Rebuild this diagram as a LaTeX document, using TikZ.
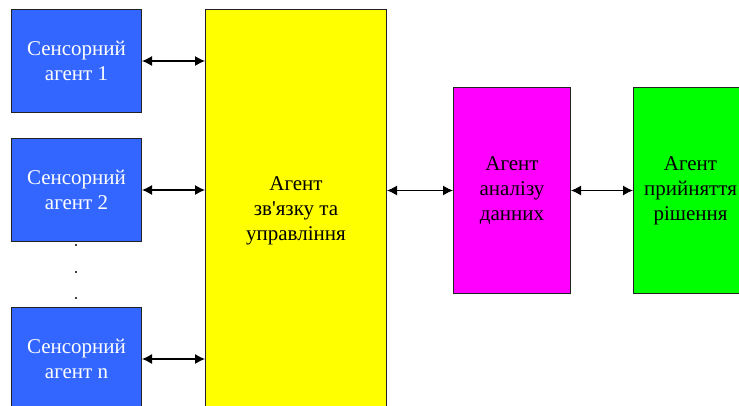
\documentclass[tikz,border=0pt]{standalone}
\usepackage{fontspec}
\setmainfont{Liberation Serif}
\usetikzlibrary{arrows.meta}
\definecolor{sblue}{HTML}{3366FF}
\definecolor{syellow}{HTML}{FFFF00}
\definecolor{smag}{HTML}{FF00FF}
\definecolor{sgreen}{HTML}{00FF00}
\definecolor{sedge}{HTML}{222222}
\begin{document}
\begin{tikzpicture}[x=1pt,y=-1pt,
  box/.style={draw=sedge,line width=1pt,anchor=north west,align=center,inner sep=0pt,
    font=\fontsize{21}{25}\selectfont},
  sensor/.style={box,fill=sblue,text=white,minimum width=130pt,minimum height=103pt},
  link/.style={line width=1.2pt,{Latex[length=10pt,width=10pt]}-{Latex[length=10pt,width=10pt]}},
  dotm/.style={circle,fill=black,inner sep=0pt,minimum size=2.4pt}]
\useasboundingbox[clip] (0,0) rectangle (739,405);
\node[sensor] (s1) at (11,9) {Сенсорний\\агент 1};
\node[sensor] (s2) at (11,138) {Сенсорний\\агент 2};
\node[sensor] (sn) at (11,307) {Сенсорний\\агент n};
\node[box,fill=syellow,minimum width=181pt,minimum height=402pt] (y) at (205,9) {Агент\\зв\textquotesingle язку та\\управління};
\node[box,fill=smag,minimum width=117pt,minimum height=206pt] (m) at (453,87) {Агент\\аналізу\\данних};
\node[box,fill=sgreen,minimum width=114pt,minimum height=206pt] (g) at (633,87) {Агент\\прийняття\\рішення};
\node[dotm] (d1) at (76,245) {};
\node[dotm] (d2) at (76,272) {};
\node[dotm] (d3) at (76,298) {};
\draw[link] (s1.east) -- (s1.east -| y.west);
\draw[link] (s2.east) -- (s2.east -| y.west);
\draw[link] (sn.east) -- (sn.east -| y.west);
\draw[link] (m.west -| y.east) -- (m.west);
\draw[link] (m.east) -- (g.west);
\end{tikzpicture}
\end{document}
